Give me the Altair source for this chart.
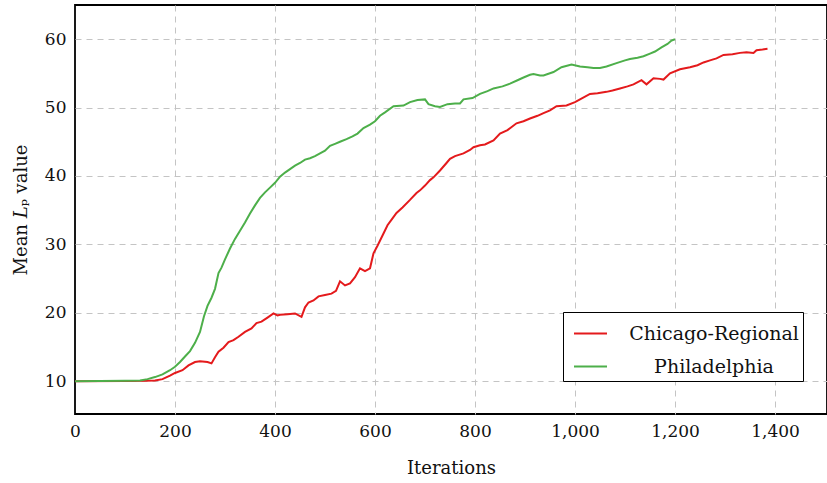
import altair as alt
import pandas as pd

# Chicago-Regional series (iterations, mean Lp)
chi_x = [0, 100, 140, 160, 175, 190, 200, 215, 227, 240, 250, 265, 273, 280, 287, 297, 307, 317, 327, 340,
         353, 363, 373, 385, 397, 405, 410, 425, 440, 453, 460, 467, 477, 487, 500, 513, 522, 530, 540, 550,
         560, 570, 580, 590, 597, 605, 617, 625, 635, 643, 655, 670, 683, 690, 700, 710, 717, 730, 743, 750,
         760, 777, 790, 797, 810, 820, 837, 850, 865, 883, 897, 910, 925, 937, 950, 963, 983, 1000, 1010, 1030,
         1045, 1063, 1075, 1090, 1105, 1117, 1133, 1143, 1157, 1170, 1177, 1190, 1210, 1230, 1245, 1257, 1270,
         1283, 1297, 1315, 1330, 1343, 1357, 1363, 1375, 1385]
chi_y = [10.0, 10.02, 10.05, 10.1, 10.3, 10.8, 11.2, 11.6, 12.3, 12.8, 12.9, 12.8, 12.6, 13.5, 14.3, 14.9, 15.7, 16.0, 16.5, 17.2,
         17.7, 18.5, 18.7, 19.3, 19.9, 19.6, 19.7, 19.8, 19.9, 19.4, 20.8, 21.5, 21.8, 22.4, 22.6, 22.8, 23.2, 24.6, 24.0, 24.3,
         25.2, 26.5, 26.1, 26.5, 28.7, 29.8, 31.6, 32.8, 33.8, 34.6, 35.4, 36.5, 37.5, 37.9, 38.6, 39.4, 39.8, 40.8, 41.9, 42.5,
         42.9, 43.3, 43.8, 44.2, 44.5, 44.6, 45.2, 46.2, 46.7, 47.7, 48.0, 48.4, 48.8, 49.2, 49.6, 50.2, 50.3, 50.8, 51.2, 52.0,
         52.1, 52.3, 52.5, 52.8, 53.1, 53.4, 54.0, 53.4, 54.3, 54.2, 54.1, 55.0, 55.6, 55.9, 56.2, 56.6, 56.9,
         57.2, 57.7, 57.8, 58.0, 58.1, 58.0, 58.4, 58.5, 58.6]

# Philadelphia series
phi_x = [0, 50, 100, 130, 145, 160, 175, 190, 200, 210, 220, 230, 240, 250, 258, 265, 273, 280, 287, 293,
         300, 310, 320, 330, 340, 350, 360, 370, 380, 390, 400, 410, 420, 430, 440, 450, 460, 470, 480, 490,
         500, 510, 520, 530, 543, 555, 565, 577, 590, 600, 610, 620, 637, 657, 670, 685, 700, 707, 720, 730,
         745, 760, 770, 777, 795, 810, 825, 837, 855, 870, 885, 897, 910, 917, 930, 937, 957, 973, 993, 1010,
         1025, 1037, 1050, 1063, 1083, 1100, 1110, 1125, 1137, 1150, 1160, 1173, 1185, 1193, 1200]
phi_y = [10.0, 10.02, 10.05, 10.1, 10.3, 10.6, 11.0, 11.6, 12.1, 12.8, 13.6, 14.4, 15.6, 17.2, 19.5, 21.0, 22.2, 23.5, 25.8, 26.6,
         27.8, 29.4, 30.8, 32.0, 33.2, 34.5, 35.7, 36.8, 37.6, 38.3, 39.0, 39.9, 40.5, 41.0, 41.5, 41.9, 42.4, 42.6, 42.9, 43.3,
         43.7, 44.4, 44.7, 45.0, 45.4, 45.8, 46.2, 47.0, 47.5, 48.0, 48.8, 49.3, 50.2, 50.3, 50.8, 51.1, 51.2, 50.5, 50.2, 50.1,
         50.5, 50.6, 50.6, 51.2, 51.4, 52.0, 52.4, 52.8, 53.1, 53.5, 54.0, 54.4, 54.8, 54.9, 54.7, 54.7, 55.2, 55.9, 56.3, 56.0,
         55.9, 55.8, 55.8, 56.0, 56.5, 56.9, 57.1, 57.3, 57.5, 57.9, 58.2, 58.8, 59.3, 59.8, 60.0]

series_names = ["Chicago-Regional", "Philadelphia"]
series_colors = ["#e41a1c", "#4daf4a"]
x_ticks = [0, 200, 400, 600, 800, 1000, 1200, 1400]
y_ticks = [10, 20, 30, 40, 50, 60]

df = pd.concat([
    pd.DataFrame({"iter": chi_x, "val": chi_y, "series": series_names[0], "ord": range(len(chi_x))}),
    pd.DataFrame({"iter": phi_x, "val": phi_y, "series": series_names[1], "ord": range(len(phi_x))}),
])

FONT = "DejaVu Serif"

chart = alt.Chart(df).mark_line(strokeWidth=2, clip=True).encode(
    x=alt.X("iter:Q", title="Iterations",
            scale=alt.Scale(domain=[0, 1504], nice=False, zero=False),
            axis=alt.Axis(values=x_ticks, format=",.0f", labelFlush=False,
                          gridOpacity={"condition": {"test": "datum.value === 0", "value": 0}, "value": 1})),
    y=alt.Y("val:Q", title="Mean 𝐿ₚ value",
            scale=alt.Scale(domain=[5.2, 65], nice=False, zero=False),
            axis=alt.Axis(values=y_ticks)),
    color=alt.Color("series:N", scale=alt.Scale(domain=series_names, range=series_colors),
                    legend=alt.Legend(title=None, orient="none", legendX=488, legendY=307,
                                      symbolType="stroke", symbolSize=1089, symbolStrokeWidth=2,
                                      symbolOffset=6,
                                      labelFont=FONT, labelFontSize=19, labelColor="#111",
                                      labelAlign="center", labelOffset=106, labelLimit=400,
                                      strokeColor="black", fillColor="white",
                                      padding=4, rowPadding=5, cornerRadius=0)),
    order="ord:Q",
).properties(
    width=752, height=409,
    autosize=alt.AutoSizeParams(type="none"),
    padding={"left": 75, "top": 5, "right": 0, "bottom": 69},
).configure_view(
    stroke="black", strokeWidth=1.8,
).configure_axis(
    labelFont=FONT, labelFontSize=17, labelColor="#111",
    titleFont=FONT, titleFontSize=18, titleFontWeight="normal", titleColor="#111",
    grid=True, gridColor="#c4c4c4", gridDash=[6, 5], gridWidth=1,
    domain=False, ticks=False, labelPadding=9,
).configure_axisX(
    titlePadding=20,
).configure_axisY(
    titlePadding=14,
)

chart.save("out.html", embed_options={"renderer": "svg", "actions": False})
